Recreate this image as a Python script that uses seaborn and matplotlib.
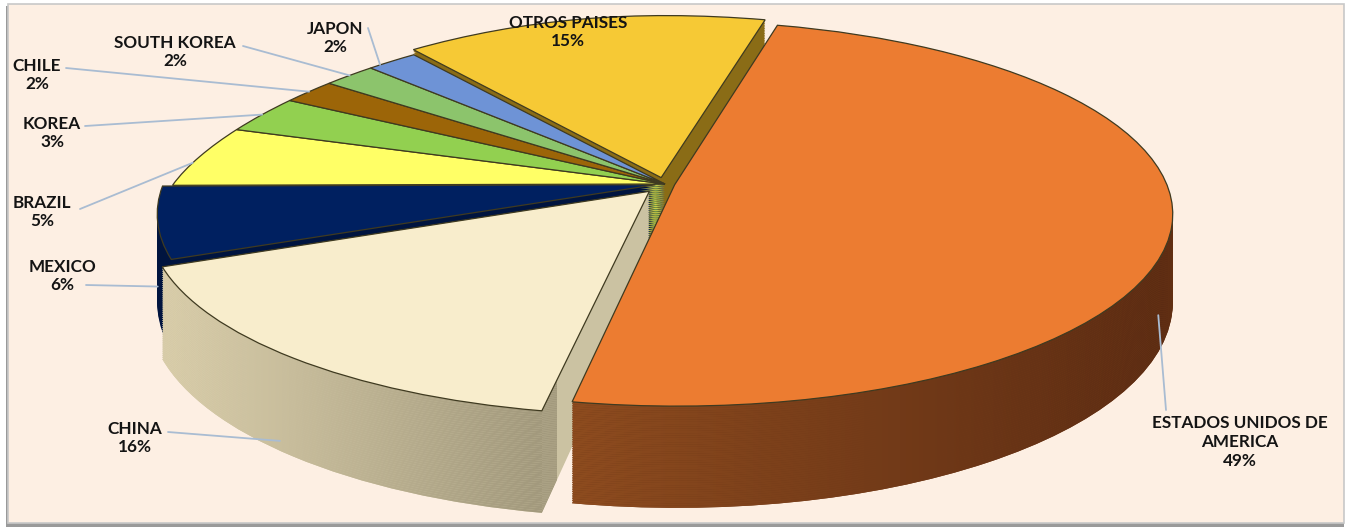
import numpy as np
import matplotlib
matplotlib.use("Agg")
import matplotlib.pyplot as plt
import matplotlib.transforms as mtransforms
from matplotlib.patches import Rectangle
from matplotlib.colors import to_rgb
import seaborn as sns

# ---------------- data ----------------
countries = ["ESTADOS UNIDOS DE\nAMERICA", "CHINA", "MEXICO", "BRAZIL", "KOREA",
             "CHILE", "SOUTH KOREA", "JAPON", "OTROS PAISES"]
shares = [49, 16, 6, 5, 3, 2, 2, 2, 15]
pct_labels = ["49%", "16%", "6%", "5%", "3%", "2%", "2%", "2%", "15%"]

# ---------------- style ----------------
top_colors = ["#EC7C31", "#F8EDCC", "#002060", "#FFFF66", "#92D050",
              "#9C6508", "#8CC46C", "#6E93D6", "#F6C935"]
side_colors = ["#733B18", "#CBC2A2", "#00143F", "#C9C94A", "#64943A",
               "#6A4506", "#5E8C48", "#4A68A0", "#8A6C16"]
# horizontal gradients on the visible sides of the two front slices
side_gradients = {0: ("#8E4C1F", "#592A12", -0.2, 1.08),
                  1: ("#DDD1AD", "#A0977B", -1.05, -0.22)}
explode = [0.02, 0.05, 0.02, 0, 0, 0, 0, 0, 0.035]

sns.set_theme(style="white")
plt.rcParams['font.family'] = ['Lato', 'DejaVu Sans']

W, H = 1348, 529
START = 76
FOCAL = 6.7
KX = 0.15
DEPTH = 0.46
RX_PX, RY_PX = 492, 188
CX_PX, CY_PX = 665, 184


def project(x, v, z):
    x = np.asarray(x, float)
    v = np.asarray(v, float)
    s = FOCAL / (FOCAL + v)
    back = 1 - KX * np.clip(v, 0, None) * (x < 0)
    return x * s * back, (v - z) * s


class Perspective(mtransforms.Transform):
    input_dims = output_dims = 2

    def __init__(self, z):
        super().__init__()
        self.z = z

    def transform_non_affine(self, xy):
        xy = np.asarray(xy, float)
        X, Y = project(xy[:, 0], xy[:, 1], self.z)
        return np.column_stack([X, Y])


def gradient_image(c1, c2, n=256):
    t = np.linspace(0, 1, n)[None, :, None]
    return (1 - t) * np.array(to_rgb(c1)) + t * np.array(to_rgb(c2))


fig = plt.figure(figsize=(W / 100, H / 100), dpi=100)
fig.patch.set_facecolor("white")
fig.add_artist(Rectangle((6 / W, 2 / H), (W - 10) / W, (H - 8) / H, transform=fig.transFigure,
                         facecolor="#9A9A9A", edgecolor="none", zorder=-11))
fig.add_artist(Rectangle((8 / W, 6 / H), (W - 12) / W, (H - 10) / H, transform=fig.transFigure,
                         facecolor="#FDEFE3", edgecolor="#C8C8C8", lw=1.2, zorder=-10))

ax = fig.add_axes([0, 0, 1, 1])
ax.set_facecolor("none")
ylo, yhi = -(H - CY_PX) / RY_PX, CY_PX / RY_PX

# side layers (thickness)
N = 45
for k in range(N):
    z = DEPTH * (1 - k / N)
    wedges, _ = ax.pie(shares, explode=explode, startangle=START, counterclock=False,
                       colors=side_colors, wedgeprops=dict(linewidth=0))
    for w in wedges:
        w.set_transform(Perspective(z) + ax.transData)
        w.set_zorder(1)
    for idx, (c1, c2, x0, x1) in side_gradients.items():
        im = ax.imshow(gradient_image(c1, c2), extent=[x0, x1, ylo, yhi], aspect="auto",
                       interpolation="bilinear", zorder=1)
        im.set_clip_path(wedges[idx])

# top surface
wedges, _ = ax.pie(shares, explode=explode, startangle=START, counterclock=False,
                   colors=top_colors, wedgeprops=dict(linewidth=0.9, edgecolor="#3F3A20"))
for w in wedges:
    w.set_transform(Perspective(0) + ax.transData)
    w.set_zorder(1)

ax.set_aspect("auto")
ax.set_xlim(-CX_PX / RX_PX, (W - CX_PX) / RX_PX)
ax.set_ylim(ylo, yhi)
ax.axis("off")

# ---------------- labels ----------------
label_pos = [(1240, 442), (135, 438), (62, 276), (42, 212), (52, 133),
             (37, 75), (175, 52), (335, 38), (568, 32)]
attach_pos = [(1166, 410), (168, 432), (86, 285), (80, 209), (85, 126),
              (66, 68), (243, 46), (368, 28), None]
anchor_da = [-10, -2, 0, 2, 0, 0, 0, 2, 0]
anchor_z = [0.6, 0.9, 0.72, 0, 0, 0, 0, 0, 0]

total = float(sum(shares))
theta = START
for i, (name, pct) in enumerate(zip(countries, pct_labels)):
    span = 360 * shares[i] / total
    midc = np.deg2rad(theta - span / 2)
    mid = np.deg2rad(theta - span / 2 + anchor_da[i])
    theta -= span
    lx, ly = label_pos[i]
    ax.text(lx / W, 1 - ly / H, f"{name}\n{pct}", transform=fig.transFigure,
            ha="center", va="center", multialignment="center",
            fontsize=12.3, fontweight="bold", color="#141414", linespacing=1.22,
            zorder=5)
    if attach_pos[i] is None:
        continue
    ex, ey = explode[i] * np.cos(midc), explode[i] * np.sin(midc)
    gx = np.cos(mid) + ex
    gy = np.sin(mid) + ey
    X, Y = project(gx, gy, DEPTH * anchor_z[i])
    axp, ayp = attach_pos[i]
    ax.annotate("", xy=(float(X), float(Y)), xycoords="data",
                xytext=(axp, H - ayp), textcoords="figure pixels",
                arrowprops=dict(arrowstyle="-", color="#A9BCD2", lw=1.3,
                                shrinkA=0, shrinkB=0), zorder=5)

fig.savefig("out.png", dpi=100, facecolor=fig.get_facecolor())
